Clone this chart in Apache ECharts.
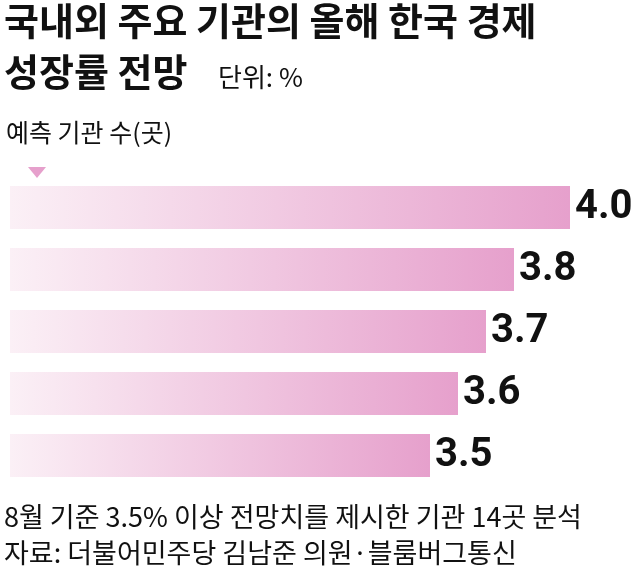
<!DOCTYPE html>
<html><head><meta charset="utf-8">
<script src="https://cdn.jsdelivr.net/npm/echarts@6/dist/echarts.min.js"></script>
<style>body{margin:0}#c{width:639px;height:582px}</style></head>
<body><div id="c"></div>
<script>
const categories = ['A','B','C','D','E'];
const growth = [4.0, 3.8, 3.7, 3.6, 3.5];
const counts = [2, 2, 4, 1, 5];
const F = '"Noto Sans CJK KR", sans-serif';
const chart = echarts.init(document.getElementById('c'));
chart.setOption({
  animation:false,
  grid:{left:10,right:69,top:176.5,bottom:95.5},
  xAxis:{type:'value',min:2,max:4,show:false},
  yAxis:{type:'category',data:categories,inverse:true,show:false},
  series:[{type:'bar',barWidth:43,data:growth,
    itemStyle:{color:new echarts.graphic.LinearGradient(0,0,1,0,[{offset:0,color:'#fbf0f6'},{offset:1,color:'#e6a0cc'}])},
    label:{show:true,position:'right',distance:5,formatter:p=>p.value.toFixed(1),fontFamily:'Roboto, sans-serif',fontWeight:'bold',fontSize:40,color:'#111'}
  },{type:'scatter',symbolSize:1,itemStyle:{opacity:0},data:categories.map((c,i)=>[2,c]),silent:true,
    label:{show:true,position:'right',distance:22,formatter:p=>String(counts[p.dataIndex]),fontFamily:F,fontSize:22,color:'#222'}}],
  graphic:[
    {type:'text',left:4,top:2,style:{text:'국내외 주요 기관의 올해 한국 경제',font:'bold 38px '+F,fill:'#111'}},
    {type:'text',left:4,top:53,style:{text:'성장률 전망',font:'bold 38px '+F,fill:'#111'}},
    {type:'text',left:218,top:64,style:{text:'단위: %',font:'26px '+F,fill:'#111'}},
    {type:'text',left:6,top:120,style:{text:'예측 기관 수(곳)',font:'25px '+F,fill:'#111'}},
    {type:'polygon',shape:{points:[[28,167],[46,167],[37,178]]},style:{fill:'#e6a0cc'}},
    {type:'text',left:4,top:503,style:{text:'8월 기준 3.5% 이상 전망치를 제시한 기관 14곳 분석',font:'27px '+F,fill:'#111'}},
    {type:'text',left:4,top:539,style:{text:'자료: 더불어민주당 김남준 의원·블룸버그통신',font:'27px '+F,fill:'#111'}}
  ]
});
</script></body></html>
